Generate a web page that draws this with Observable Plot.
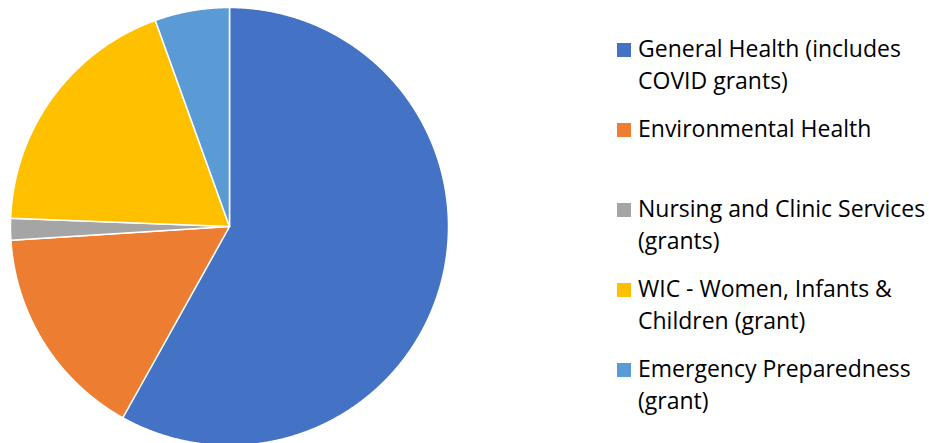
<!DOCTYPE html>
<html><head><meta charset="utf-8">
<script src="https://cdn.jsdelivr.net/npm/d3@7"></script>
<script src="https://cdn.jsdelivr.net/npm/@observablehq/plot@0.6"></script>
<style>
body{margin:0;background:#fff;}
#wrap{position:relative;width:929px;height:443px;overflow:hidden;}
#chart{position:absolute;left:0;top:0;}
#legend{position:absolute;left:617px;top:0;font-family:"Open Sans";font-size:23px;color:#000;}
.sw{position:absolute;left:0;width:14px;height:14px;}
.lbl{position:absolute;left:21px;line-height:32px;white-space:nowrap;}
</style>
</head><body>
<div id="wrap"><div id="chart"></div><div id="legend"></div></div>
<script>
const categories = ["General Health (includes COVID grants)", "Environmental Health", "Nursing and Clinic Services (grants)", "WIC - Women, Infants & Children (grant)", "Emergency Preparedness (grant)"];
const values = [58.1, 15.9, 1.6, 18.9, 5.5];
const colors = ["#4472C4", "#ED7D31", "#A5A5A5", "#FFC000", "#5B9BD5"];
const legendLines = [["General Health (includes", "COVID grants)"], ["Environmental Health"], ["Nursing and Clinic Services", "(grants)"], ["WIC - Women, Infants &", "Children (grant)"], ["Emergency Preparedness", "(grant)"]];

const pie = d3.pie().sort(null).value(d => d)(values);
const pts = [];
pie.forEach((p, i) => {
  const cat = categories[i];
  pts.push({cat, x: 0, y: 0});
  const n = Math.max(2, Math.ceil((p.endAngle - p.startAngle) / (Math.PI / 720)));
  for (let k = 0; k <= n; k++) {
    const a = p.startAngle + (p.endAngle - p.startAngle) * k / n;
    pts.push({cat, x: Math.sin(a), y: Math.cos(a)});
  }
  pts.push({cat, x: 0, y: 0});
});

const cx = 229, cy = 226, r = 219;
const chart = Plot.plot({
  width: 929, height: 443, margin: 0,
  x: {domain: [-1, 1], range: [cx - r, cx + r], axis: null},
  y: {domain: [-1, 1], range: [cy + r, cy - r], axis: null},
  color: {domain: categories, range: colors},
  marks: [
    Plot.line(pts, {x: "x", y: "y", z: "cat", fill: "cat", stroke: "white", strokeWidth: 1.5, strokeLinejoin: "round", curve: "linear"})
  ]
});
document.getElementById("chart").appendChild(chart);

const baselines = [57, 137, 217, 297, 377];
const legend = document.getElementById("legend");
categories.forEach((c, i) => {
  const sw = document.createElement("div");
  sw.className = "sw";
  sw.style.top = (baselines[i] - 14) + "px";
  sw.style.background = colors[i];
  legend.appendChild(sw);
  legendLines[i].forEach((t, j) => {
    const d = document.createElement("div");
    d.className = "lbl";
    d.style.top = (baselines[i] - 25 + j * 32) + "px";
    d.textContent = t;
    legend.appendChild(d);
  });
});
</script>
</body></html>
